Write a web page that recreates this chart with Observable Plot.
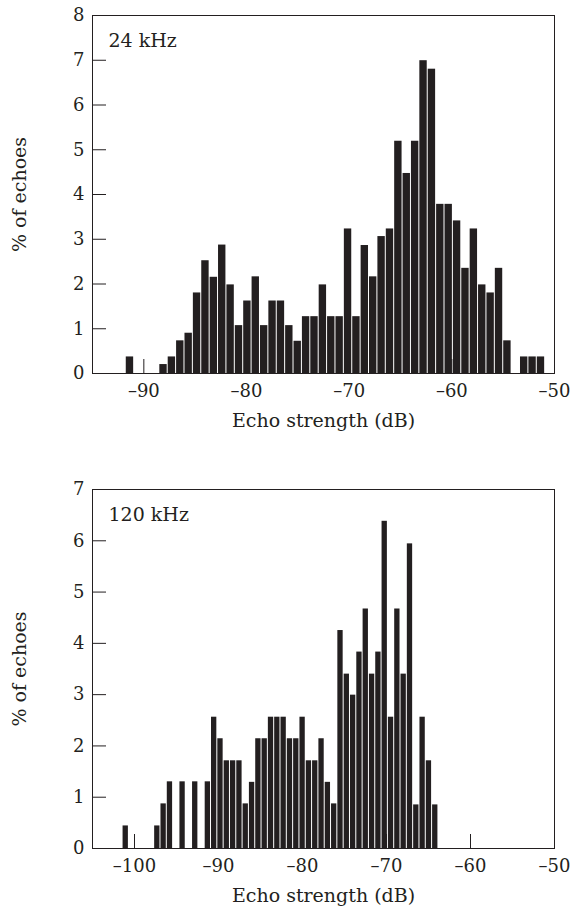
<!DOCTYPE html>
<html>
<head>
<meta charset="utf-8">
<script src="https://cdn.jsdelivr.net/npm/d3@7"></script>
<script src="https://cdn.jsdelivr.net/npm/@observablehq/plot@0.6"></script>
<style>
  html, body { margin: 0; padding: 0; background: #fff; }
  #charts { width: 573px; }
  #charts svg { display: block; }
</style>
</head>
<body>
<div id="charts"></div>
<script>
// ---- Data ----
// 24 kHz panel: 50 equal-width bins
const start24 = -91.76;
const binWidth24 = 0.817;
const values24 = [
  0.37, 0, 0, 0, 0.2, 0.37, 0.73, 0.9, 1.8, 2.52,
  2.15, 2.87, 1.98, 1.07, 1.62, 2.16, 1.07, 1.62, 1.62, 1.07,
  0.72, 1.27, 1.27, 1.98, 1.27, 1.27, 3.23, 1.27, 2.86, 2.16,
  3.06, 3.23, 5.19, 4.47, 5.19, 6.99, 6.8, 3.78, 3.78, 3.41,
  2.35, 3.23, 1.98, 1.8, 2.35, 0.73, 0, 0.37, 0.37, 0.37
];
const xTicks24 = [-90, -80, -70, -60, -50];
const yTicks24 = [0, 1, 2, 3, 4, 5, 6, 7, 8];

// 120 kHz panel: 50 equal-width bins
const start120 = -101.42;
const binWidth120 = 0.752;
const values120 = [
  0.44, 0, 0, 0, 0, 0.44, 0.87, 1.3, 0, 1.3,
  0, 1.3, 0, 1.3, 2.56, 2.14, 1.71, 1.71, 1.71, 0.87,
  1.29, 2.14, 2.14, 2.56, 2.56, 2.56, 2.14, 2.14, 2.56, 1.71,
  1.71, 2.14, 1.29, 0.87, 4.25, 3.4, 2.99, 3.83, 4.67, 3.4,
  3.83, 6.38, 2.56, 4.67, 3.4, 5.94, 0.85, 2.56, 1.71, 0.85
];
const xTicks120 = [-100, -90, -80, -70, -60, -50];
const yTicks120 = [0, 1, 2, 3, 4, 5, 6, 7];

const xLabel = "Echo strength (dB)";
const yLabel = "% of echoes";
const panelLabels = ["24 kHz", "120 kHz"];

// ---- Drawing ----
const ink = "#231f20";
const font = "'DejaVu Serif', serif";

function panel({values, start, width, xDomain, xTicks, yDomain, yTicks, label, height, marginTop, marginBottom}) {
  const bins = values
    .map((v, i) => ({x1: start + i * width, x2: start + (i + 1) * width, y: v}))
    .filter(d => d.y > 0);
  return Plot.plot({
    width: 573,
    height,
    marginLeft: 92,
    marginRight: 19,
    marginTop,
    marginBottom,
    style: {fontFamily: font, fontSize: "18px", color: ink, background: "#fff", overflow: "visible"},
    x: {domain: xDomain},
    y: {domain: yDomain},
    marks: [
      // inward ticks
      Plot.axisX(xTicks, {tickSize: 14, dy: -14, fill: "none", tickFormat: () => "", label: null, stroke: ink}),
      Plot.axisY(yTicks, {tickSize: 14, dx: 14, fill: "none", tickFormat: () => "", label: null, stroke: ink}),
      // bars
      Plot.rectY(bins, {x1: "x1", x2: "x2", y: "y", fill: ink, insetLeft: 0.5, insetRight: 0.5}),
      // tick labels
      Plot.axisX(xTicks, {tickSize: 0, tickPadding: 11, label: null, fill: ink,
        tickFormat: d => (d < 0 ? "\u2013" : "") + Math.abs(d)}),
      Plot.axisY(yTicks, {tickSize: 0, tickPadding: 8, label: null, fill: ink, tickFormat: d => String(d)}),
      Plot.frame({stroke: ink, strokeWidth: 1}),
      Plot.text([label], {frameAnchor: "top-left", dx: 16, dy: 18, textAnchor: "start", lineAnchor: "top",
        fontSize: 19, fill: ink}),
      Plot.text([xLabel], {frameAnchor: "bottom", dy: 47, textAnchor: "middle", lineAnchor: "middle",
        fontSize: 19, fill: ink}),
      Plot.text([yLabel], {frameAnchor: "left", dx: -73, rotate: -90, textAnchor: "middle", lineAnchor: "middle",
        fontSize: 19, fill: ink})
    ]
  });
}

const root = document.getElementById("charts");
root.append(panel({
  values: values24, start: start24, width: binWidth24,
  xDomain: [-95, -50], xTicks: xTicks24, yDomain: [0, 8], yTicks: yTicks24,
  label: panelLabels[0], height: 450, marginTop: 15, marginBottom: 77
}));
root.append(panel({
  values: values120, start: start120, width: binWidth120,
  xDomain: [-105, -50], xTicks: xTicks120, yDomain: [0, 7], yTicks: yTicks120,
  label: panelLabels[1], height: 460, marginTop: 39, marginBottom: 62
}));
</script>
</body>
</html>
